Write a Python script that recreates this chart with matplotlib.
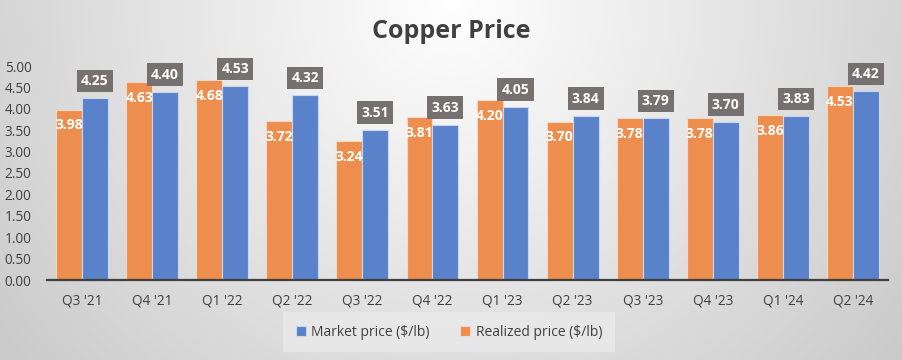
import numpy as np
import matplotlib
matplotlib.use("Agg")
import matplotlib.pyplot as plt

quarters = ["Q3 '21", "Q4 '21", "Q1 '22", "Q2 '22", "Q3 '22", "Q4 '22",
            "Q1 '23", "Q2 '23", "Q3 '23", "Q4 '23", "Q1 '24", "Q2 '24"]
realized = [3.98, 4.63, 4.68, 3.72, 3.24, 3.81, 4.20, 3.70, 3.78, 3.78, 3.86, 4.53]
market = [4.25, 4.40, 4.53, 4.32, 3.51, 3.63, 4.05, 3.84, 3.79, 3.70, 3.83, 4.42]
yticks = [0.0, 0.5, 1.0, 1.5, 2.0, 2.5, 3.0, 3.5, 4.0, 4.5, 5.0]

ORANGE = "#ED8D4E"
BLUE = "#5A82CA"
LABEL_BG = "#767171"
TEXT = "#404040"
FONT = "Open Sans"

W, H = 903, 360
fig = plt.figure(figsize=(W / 100, H / 100), dpi=100)

# radial background gradient
bg = fig.add_axes([0, 0, 1, 1], zorder=0)
yy, xx = np.mgrid[0:H, 0:W]
d = np.sqrt((xx - W / 2) ** 2 + (yy * 1.0) ** 2)
v = np.clip(255 - d * 0.092, 196, 255) / 255.0
bg.imshow(np.dstack([v, v, v]), aspect="auto", extent=[0, 1, 0, 1], origin="upper")
bg.axis("off")

ax = fig.add_axes([47 / W, 1 - 280 / H, (888 - 47) / W, (280 - 66) / H], zorder=1)
ax.patch.set_alpha(0)

x = np.arange(len(quarters))
bw = 0.37
ax.bar(x - bw / 2, realized, bw, color=ORANGE, edgecolor="#F8D8C4", linewidth=0.8,
       label="Realized price ($/lb)", zorder=2)
ax.bar(x + bw / 2, market, bw, color=BLUE, edgecolor="#C9D6EE", linewidth=0.8,
       label="Market price ($/lb)", zorder=2)

for i in range(len(quarters)):
    ax.text(x[i] - bw / 2, realized[i] - 0.37, f"{realized[i]:.2f}", ha="center", va="center",
            color="white", fontsize=10, fontweight="bold", family=FONT, zorder=4)
    ax.text(x[i] + bw / 2, market[i] + 0.40, f"{market[i]:.2f}", ha="center", va="center",
            color="white", fontsize=10, fontweight="bold", family=FONT, zorder=4,
            bbox=dict(boxstyle="square,pad=0.3", fc=LABEL_BG, ec="none"))

ax.set_xlim(-0.5, len(quarters) - 0.5)
ax.set_ylim(0, 5.0)
ax.set_yticks(yticks)
ax.set_yticklabels([f"{t:.2f}" for t in yticks], fontsize=9.8, color=TEXT, family=FONT)
ax.set_xticks(x)
ax.set_xticklabels(quarters, fontsize=9.8, color=TEXT, family=FONT)
ax.tick_params(axis="both", length=0)
ax.tick_params(axis="x", pad=10)
ax.tick_params(axis="y", pad=11)
for s in ["top", "right", "left"]:
    ax.spines[s].set_visible(False)
ax.spines["bottom"].set_color("#404040")
ax.spines["bottom"].set_linewidth(1.6)

fig.text(0.5, 1 - 32 / H, "Copper Price", ha="center", va="center", fontsize=18,
         fontweight="bold", color=TEXT, family=FONT)

handles, labels = ax.get_legend_handles_labels()
leg = fig.legend(handles[::-1], labels[::-1], loc="center", bbox_to_anchor=(449 / W, 1 - 332 / H),
                 ncol=2, frameon=True, handlelength=0.7, handleheight=0.7,
                 columnspacing=2.2, handletextpad=0.4, borderpad=0.6,
                 prop={"family": FONT, "size": 10})
leg.get_frame().set_facecolor("#EAEAEA")
leg.get_frame().set_edgecolor("none")
leg.get_frame().set_alpha(0.8)
leg.get_frame().set_boxstyle("square", pad=0.3)
for t in leg.get_texts():
    t.set_color(TEXT)

fig.savefig("out.png", dpi=100)
